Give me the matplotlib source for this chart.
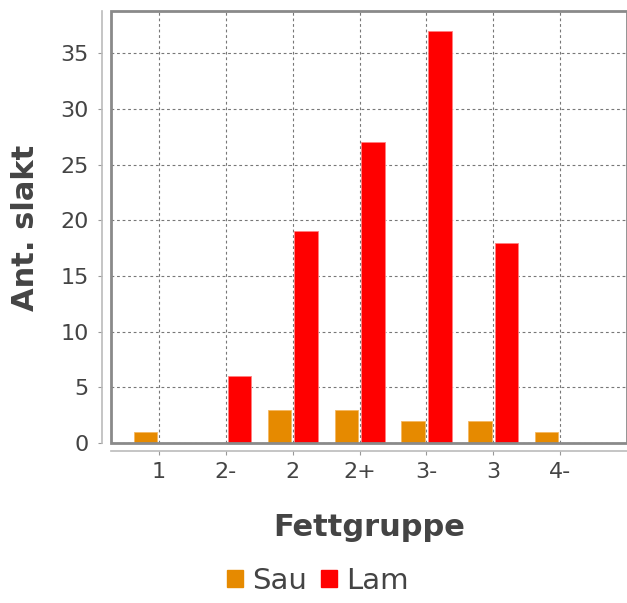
import matplotlib
matplotlib.use("Agg")
import matplotlib.pyplot as plt
import numpy as np
from matplotlib.patches import Rectangle

categories = ["1", "2-", "2", "2+", "3-", "3", "4-"]
sau = [1, 0, 3, 3, 2, 2, 1]
lam = [0, 6, 19, 27, 37, 18, 0]
series_names = ["Sau", "Lam"]
colors = ["#E68A00", "#FF0000"]
y_ticks = [0, 5, 10, 15, 20, 25, 30, 35]

W, H = 627, 603
fig = plt.figure(figsize=(W / 100, H / 100), dpi=100)
ax = fig.add_axes([111 / W, (H - 443) / H, 516 / W, 432 / H])

x = np.arange(len(categories))
width = 0.35
offset = 0.2
ax.bar(x - offset, sau, width, color=colors[0], edgecolor="#F5B860", linewidth=0.6, zorder=3)
ax.bar(x + offset, lam, width, color=colors[1], edgecolor="#FF8080", linewidth=0.6, zorder=3)

ax.set_xlim(-0.72, 7.0)
ax.set_ylim(0, 38.8)
ax.set_xticks(x)
ax.set_xticklabels(categories)
ax.set_yticks(y_ticks)

ax.grid(True, color="#777777", linestyle=(0, (2.5, 2.5)), linewidth=0.8, zorder=1)
ax.set_axisbelow(True)

# plot frame
ax.add_patch(Rectangle((0, 0), 1, 1, transform=ax.transAxes, fill=False,
                       edgecolor="#8a8a8a", linewidth=2, zorder=5, clip_on=False))

for s in ["top", "right"]:
    ax.spines[s].set_visible(False)
ax.spines["left"].set_position(("outward", 6.5))
ax.spines["bottom"].set_position(("outward", 6))
for s in ["left", "bottom"]:
    ax.spines[s].set_color("#bbbbbb")
    ax.spines[s].set_linewidth(1.2)

ax.tick_params(axis="both", direction="out", length=3, width=0.8, color="#999999",
               labelcolor="#444444", labelsize=16)
ax.tick_params(axis="x", pad=5)
ax.tick_params(axis="y", pad=6.5)

fig.text(26 / W, 1 - 228 / H, "Ant. slakt", rotation=90, ha="center", va="center",
         fontsize=22, fontweight="bold", color="#444444")
fig.text(369 / W, 1 - 527 / H, "Fettgruppe", ha="center", va="center",
         fontsize=22, fontweight="bold", color="#444444")

handles = [Rectangle((0, 0), 1, 1, color=c) for c in colors]
fig.legend(handles, series_names, loc="center", bbox_to_anchor=(318 / W, 1 - 581 / H),
           ncol=2, frameon=False, fontsize=21, handlelength=0.55, handleheight=0.55,
           handletextpad=0.3, columnspacing=0.5, labelcolor="#444444",
           borderpad=0, borderaxespad=0)

fig.savefig("out.png", dpi=100)
